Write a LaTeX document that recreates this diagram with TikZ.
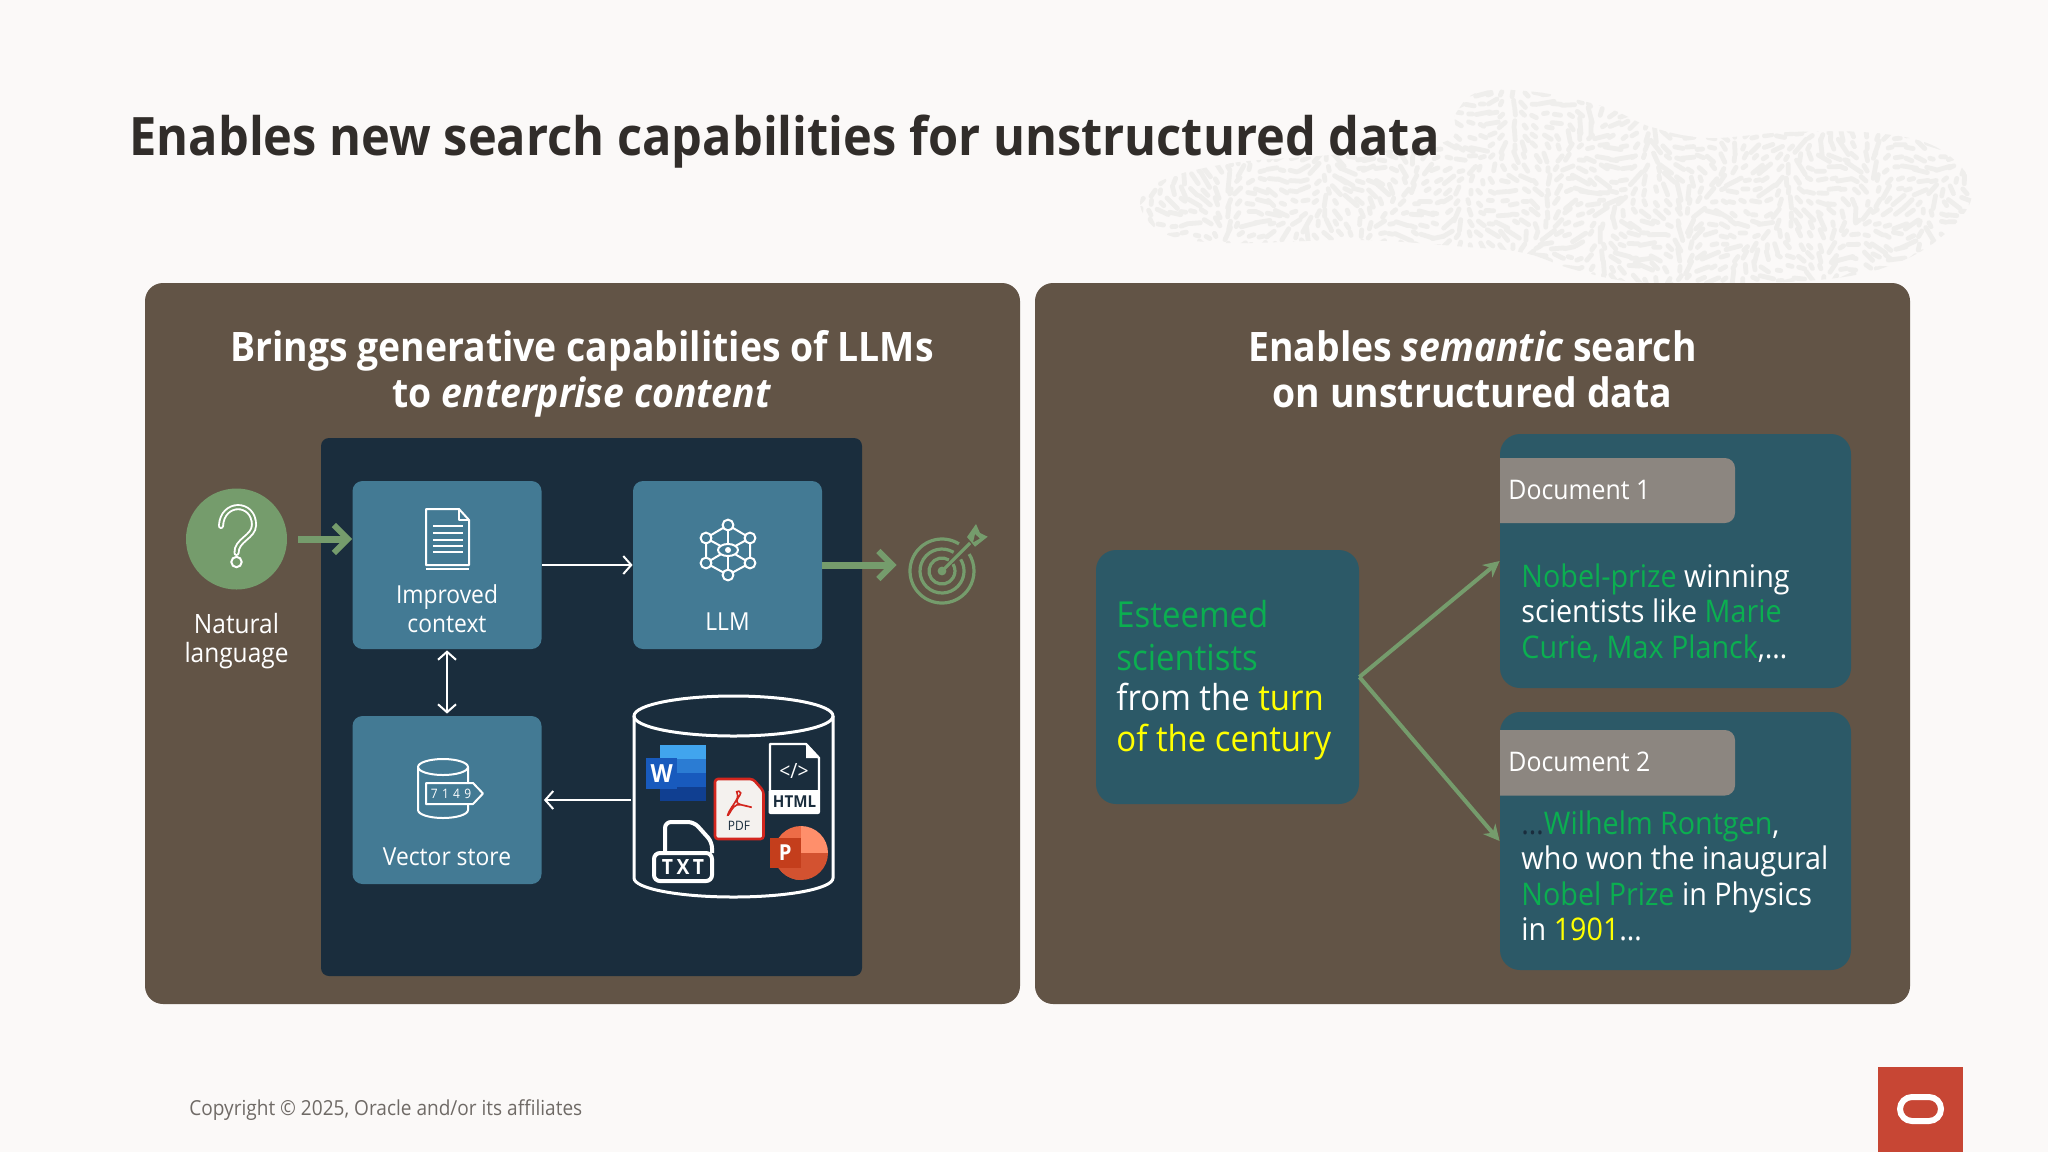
\documentclass[tikz,border=0pt]{standalone}
\usepackage{fontspec}
\setmainfont{Open Sans}[FakeStretch=0.92]
\usetikzlibrary{arrows.meta,calc}
\definecolor{bgc}{HTML}{FBF9F8}
\definecolor{grain}{HTML}{EFEEEC}
\definecolor{ink}{HTML}{312D2A}
\definecolor{panel}{HTML}{625446}
\definecolor{navy}{HTML}{1A2D3D}
\definecolor{steel}{HTML}{437A94}
\definecolor{teal}{HTML}{2C5967}
\definecolor{tagc}{HTML}{8C8680}
\definecolor{sage}{HTML}{759C6C}
\definecolor{hl}{HTML}{0BAF50}
\definecolor{yl}{HTML}{FFFF00}
\definecolor{foot}{HTML}{6F6A66}
\definecolor{ored}{HTML}{C74634}
\definecolor{wa}{RGB}{65,165,238}
\definecolor{wb}{RGB}{43,124,211}
\definecolor{wc}{RGB}{24,90,189}
\definecolor{wd}{RGB}{16,63,145}
\definecolor{pdfbg}{RGB}{244,241,238}
\definecolor{pdfred}{RGB}{211,38,30}
\definecolor{pa}{RGB}{237,108,71}
\definecolor{pb}{RGB}{255,143,107}
\definecolor{pc}{RGB}{211,82,48}
\definecolor{pd}{RGB}{196,62,28}
\newcommand{\fsz}[1]{\fontsize{#1pt}{#1pt}\selectfont}
\tikzset{
  panelbox/.style={fill=panel,rounded corners=9pt,minimum width=437.5pt,minimum height=360.5pt,inner sep=0pt},
  navybox/.style={fill=navy,rounded corners=4pt,minimum width=270.5pt,minimum height=269pt,inner sep=0pt},
  stepbox/.style={fill=steel,rounded corners=5pt,minimum width=94.5pt,minimum height=84pt,inner sep=0pt},
  docbox/.style={fill=teal,rounded corners=10pt,inner sep=0pt},
  lbl/.style={text=white,font=\fsz{12.4},align=center,inner sep=0pt},
  ptitle/.style={text=white,font=\fsz{20.3}\bfseries,align=center,inner sep=0pt},
  body/.style={text=white,inner sep=0pt,align=left},
  thick green/.style={draw=sage,line width=3.5pt,-{Straight Barb[length=7pt,width=14pt,line width=3pt]}},
  thin white/.style={draw=white,line width=1pt},
  diag/.style={draw=sage,line width=2pt,-{Stealth[length=8pt,width=8pt]}},
  icon/.style={draw=white,line width=1pt,line join=round},
  barb/.tip={Straight Barb[length=4pt,width=9pt,line width=1pt]},
}
\begin{document}
\begin{tikzpicture}[x=0.5pt,y=-0.5pt]
\useasboundingbox (0,0) rectangle (2048,1152);
\fill[bgc] (0,0) rectangle (2048,1152);
% textured blob
\begin{scope}
\clip plot[smooth cycle,tension=0.6] coordinates {(1140,203)(1163,180)(1232,163)(1330,155)(1444,142)(1456,113)(1479,92)(1536,92)(1605,107)(1651,127)(1708,138)(1789,132)(1875,133)(1936,147)(1971,183)(1959,220)(1904,260)(1818,280)(1651,283)(1576,270)(1525,253)(1467,247)(1358,240)(1226,243)(1163,233)};
\pgfmathsetseed{41}
\foreach \i in {0,...,76}{\foreach \j in {0,...,18}{
  \pgfmathsetmacro{\gx}{1140+\i*11+rand*2.5}
  \pgfmathsetmacro{\gy}{92+\j*11+rand*2.5}
  \pgfmathsetmacro{\ga}{75+80*sin(\gx*2.3+\gy*1.1)+35*cos(\gy*3.1-\gx*0.9)+rand*15}
  \pgfmathsetmacro{\gl}{0.9+rnd*rnd*4.2}
  \draw[grain,line width=2.4pt,line cap=round] (\gx,\gy) ++(\ga:\gl pt) -- ++(\ga+180:2*\gl pt);
}}
\end{scope}
% title
\node[anchor=base west,inner sep=0pt,text=ink,font=\fsz{26.5}\bfseries] (title) at (129,155) {Enables new search capabilities for unstructured data};
% panels
\node[panelbox] (left) at (582.5,643.5) {};
\node[panelbox] (right) at (1472.5,643.5) {};
\node[ptitle] (lt) at (582,373.5) {Brings generative capabilities of LLMs\\[2.7pt]to \textit{enterprise content}};
\node[ptitle] (rt) at (1472.5,369.5) {Enables \textit{semantic} search\\[2.7pt]on unstructured data};
% left panel
\node[navybox] (core) at (591.5,707) {};
\node[circle,fill=sage,minimum size=50.5pt,inner sep=0pt] (ask) at (236.5,539) {};
\draw[white,line width=3pt,line cap=round] (221,526) .. controls (222,501) and (254,501) .. (254,525) .. controls (254,537) and (236,540) .. (236.5,553);
\draw[sage,line width=1.1pt,line cap=round] (221,526) .. controls (222,501) and (254,501) .. (254,525) .. controls (254,537) and (236,540) .. (236.5,553);
\draw[white,line width=1pt] (236.5,562) circle[radius=2.6pt];
\node[lbl,font=\fsz{13.3}] (nat) at (236.5,641) {Natural\\[1pt]language};
\node[stepbox] (ctx) at (447,565) {};
\node[stepbox] (llm) at (727.5,565) {};
\node[stepbox] (vs) at (447,800) {};
\node[lbl] (ctxt) at (447,609) {Improved\\[2pt]context};
\node[lbl] (llmt) at (727.5,622) {LLM};
\node[lbl] (vst) at (447,857) {Vector store};
% document icon
\draw[icon] (426,509) -- (459,509) -- (469,520) -- (469,565) -- (426,565) -- cycle;
\draw[icon] (459,509) -- (459,520) -- (469,520);
\draw[icon] (426,569) -- (469,569);
\foreach \ly in {526,533,540,552}{\draw[icon] (433,\ly) -- (463,\ly);}
\draw[icon] (433,546) -- (463,546);
% network icon
\foreach \a/\b in {728/525,706/538,750/538,706/563,750/563,728/575}{\draw[icon] (728,550) -- (\a,\b);}
\draw[icon] (728,525) -- (750,538) -- (750,563) -- (728,575) -- (706,563) -- (706,538) -- cycle;
\foreach \a/\b in {728/525,706/538,750/538,706/563,750/563,728/575}{\draw[icon,fill=steel] (\a,\b) circle[radius=2.7pt];}
\draw[icon,fill=steel] (728,550) ellipse[x radius=10,y radius=6];
\fill[white] (728,550) circle[radius=1.5pt];
% vector store icon
\draw[icon] (418,767) -- (418,810) arc[start angle=180,end angle=360,x radius=12.5pt,y radius=4pt] -- (468,767);
\draw[icon] (443,767) ellipse[x radius=25,y radius=8];
\draw[icon,fill=steel] (426,783) -- (473,783) -- (483,793.5) -- (473,804) -- (426,804) -- cycle;
\node[inner sep=0pt,text=white,font=\fsz{6.5}] (num) at (451,793.5) {7\,\,1\,\,4\,\,9};
% store cylinder
\draw[white,line width=1.5pt] (634,716) -- (634,878) arc[start angle=180,end angle=360,x radius=49.75pt,y radius=9.5pt] -- (833,716);
\draw[white,line width=1.5pt] (733.5,716) ellipse[x radius=99.5,y radius=20];
% word
\fill[wa] (660,745) rectangle (705.7,759);
\fill[wb] (660,759) rectangle (705.7,773);
\fill[wc] (660,773) rectangle (705.7,787);
\fill[wd] (660,787) rectangle (705.7,800.7);
\node[fill=wc,minimum size=15.7pt,inner sep=0pt,text=white,font=\fsz{12.5}\bfseries] (word) at (661.7,773.3) {W};
% html
\draw[white,line width=1.2pt,fill=navy,line join=round] (770,744) -- (806,744) -- (819,758) -- (819,792) -- (770,792) -- cycle;
\fill[white] (806,743) -- (806,758) -- (820,758) -- cycle;
\fill[white,rounded corners=1pt] (768.5,790) rectangle (820,814);
\node[inner sep=0pt,text=white,font=\fsz{10.5}] (code) at (794,771) {</>};
\node[inner sep=0pt,text=navy,font=\fsz{8.2}\bfseries] (html) at (794.5,801.5) {HTML};
% pdf
\draw[fill=pdfbg,draw=pdfred,line width=1.3pt,rounded corners=1.5pt] (715,779) -- (753,779) -- (763.5,791) -- (763.5,839) -- (715,839) -- cycle;
\draw[pdfred,line width=.8pt] plot[smooth cycle,tension=.7] coordinates {(736.7,791.7)(740.7,793)(737.3,802.7)(751.7,807.3)(736.7,805)(728.3,815)(730,810)(737.3,798)};
\node[inner sep=0pt,text=navy,font=\fsz{6.5}] (pdf) at (739,826) {PDF};
% txt
\draw[white,line width=2pt,line join=round,rounded corners=3pt] (665,853) -- (665,822) -- (694,822) -- (712,842) -- (712,853);
\draw[white,line width=2pt,rounded corners=3pt] (654,853) rectangle (712,881);
\node[inner sep=0pt,text=white,font=\fsz{10.5}\bfseries] (txt) at (683,867) {T\,X\,T};
% ppt
\fill[pa] (801,853) -- (801,826) arc[start angle=90,end angle=270,radius=13.5pt] -- cycle;
\fill[pb] (801,853) -- (801,826) arc[start angle=90,end angle=0,radius=13.5pt] -- cycle;
\fill[pc] (801,853) -- (828,853) arc[start angle=0,end angle=-180,radius=13.5pt] -- cycle;
\node[fill=pd,minimum size=15.3pt,inner sep=0pt,text=white,font=\fsz{11}\bfseries] (ppt) at (785.3,853) {P};
% target
\node[circle,minimum size=32pt,inner sep=0pt] (goal) at (942,571) {};
\foreach \r in {16,11,6.5}{\draw[sage,line width=1.6pt] ([shift={(58:\r pt)}]942,571) arc[start angle=58,end angle=392,radius=\r pt];}
\fill[sage] (942,571) circle[radius=2.2pt];
\draw[sage,line width=1.6pt] (942,571) -- (970,543);
\fill[sage,even odd rule] (976,524) -- (980,533) -- (987.7,536.7) -- (975,546.7) -- (967,537) -- cycle (975,534) -- (980,538.5) -- (973,542.5) -- cycle;
% left arrows
\draw[thick green,shorten <=5.5pt] (ask.east) -- (ask.east -| ctx.west);
\draw[thick green,shorten >=6.5pt] (llm.east) -- (llm.east -| goal.west);
\draw[thin white,-barb] (ctx) -- (llm);
\draw[thin white,barb-barb,shorten <=.5pt,shorten >=1pt] (ctx) -- (vs);
\coordinate (cylw) at (631,800);
\draw[thin white,-barb,shorten >=1pt] (cylw) -- (vs);
% right panel
\node[docbox,minimum width=131.5pt,minimum height=127pt] (query) at (1227.5,677) {};
\node[docbox,minimum width=175.5pt,minimum height=127pt] (doc1) at (1675.5,561) {};
\node[docbox,minimum width=175.5pt,minimum height=129pt] (doc2) at (1675.5,841) {};
\fill[tagc] (1500,458) [rounded corners=5pt] -- (1735,458) -- (1735,523) [sharp corners] -- (1500,523) -- cycle;
\fill[tagc] (1500,730) [rounded corners=5pt] -- (1735,730) -- (1735,795.5) [sharp corners] -- (1500,795.5) -- cycle;
\node[anchor=west,inner sep=0pt,text=white,font=\fsz{13.5}] (t1) at (1508,490) {Document 1};
\node[anchor=west,inner sep=0pt,text=white,font=\fsz{13.5}] (t2) at (1508,762) {Document 2};
\node[body,anchor=west,font=\fsz{17.9}] (qt) at (1116,680) {\textcolor{hl}{Esteemed}\\[3.6pt]\textcolor{hl}{scientists}\\[2.3pt]from the \textcolor{yl}{turn}\\[2.3pt]\textcolor{yl}{of the century}};
\node[body,anchor=west,font=\fsz{15.6}] (d1t) at (1521,613) {\textcolor{hl}{Nobel-prize} winning\\[2.1pt]scientists like \textcolor{hl}{Marie}\\[2.1pt]\textcolor{hl}{Curie, Max Planck},…};
\node[body,anchor=west,font=\fsz{15.6}] (d2t) at (1521,876) {\textcolor{navy}{…}\textcolor{hl}{Wilhelm Rontgen},\\[2.1pt]who won the inaugural\\[2.1pt]\textcolor{hl}{Nobel Prize} in Physics\\[2.1pt]in \textcolor{yl}{1901}…};
\draw[diag] (query.east) -- (doc1.west);
\draw[diag] (query.east) -- (doc2.west);
% footer
\node[anchor=base west,inner sep=0pt,text=foot,font=\fsz{10.35}] (copy) at (189,1115) {Copyright © 2025, Oracle and/or its affiliates};
\node[fill=ored,minimum width=42.5pt,minimum height=42.5pt,inner sep=0pt] (logo) at (1920.5,1109.5) {};
\draw[white,line width=3pt,rounded corners=6pt] (1900,1097) rectangle (1941,1121);
\end{tikzpicture}
\end{document}
